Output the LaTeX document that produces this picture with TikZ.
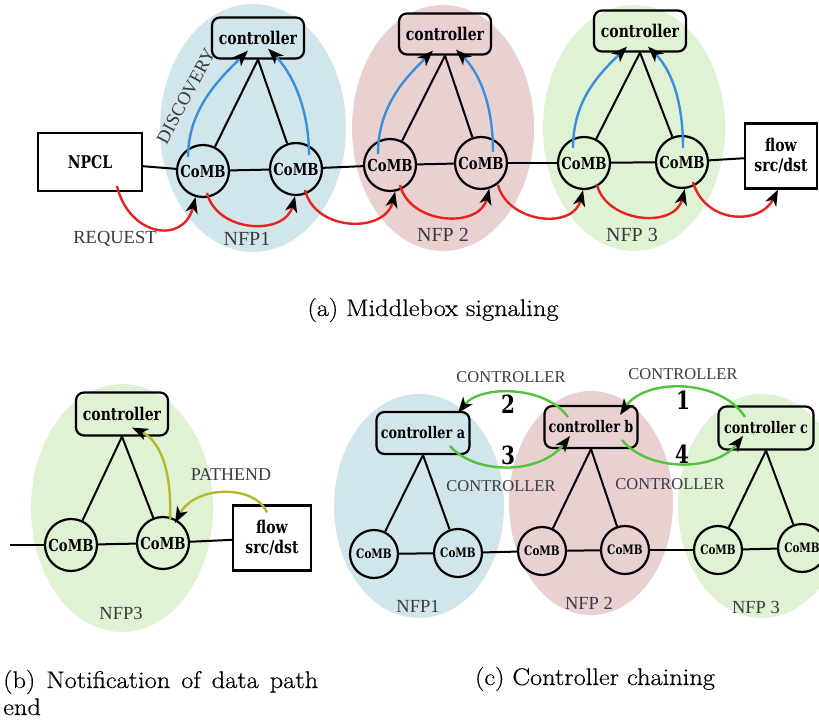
\documentclass[tikz,border=0pt]{standalone}
\usepackage{fontspec}
\newfontfamily\lblfont[FakeStretch=0.8]{DejaVu Serif}
\newfontfamily\tagfont{Liberation Serif}
\newfontfamily\capfont[FakeStretch=1.1,FakeBold=0.6]{Latin Modern Roman}
\usetikzlibrary{arrows.meta,calc}

\definecolor{nfpblue}{HTML}{D0E6EA}
\definecolor{nfppink}{HTML}{E9D0D1}
\definecolor{nfpgreen}{HTML}{DFF2D4}
\definecolor{sigred}{HTML}{E8221F}
\definecolor{sigblue}{HTML}{3A8FDC}
\definecolor{siggreen}{HTML}{52C43C}
\definecolor{sigolive}{HTML}{B5B82E}
\definecolor{tagGray}{HTML}{3A3A3A}

\tikzset{
  comb/.style={circle, draw, line width=2.2pt, minimum size=#1, inner sep=0pt,
    font=\lblfont\bfseries\fontsize{16.5}{18}\selectfont},
  comb/.default=52pt,
  ctrlbox/.style={draw, rounded corners=8pt, line width=2.2pt, minimum width=92pt,
    minimum height=41pt, inner sep=2pt, font=\lblfont\bfseries\fontsize{17.5}{19}\selectfont},
  endbox/.style={draw, line width=2.2pt, inner sep=2pt, align=center,
    font=\lblfont\bfseries\fontsize{17.5}{20}\selectfont},
  smallcomb/.style={comb=48pt, font=\lblfont\bfseries\fontsize{13}{15}\selectfont},
  smallctrl/.style={ctrlbox, minimum width=93pt, minimum height=42pt,
    font=\lblfont\bfseries\fontsize{16}{18}\selectfont},
  link/.style={line width=2pt},
  sig/.style={line width=2.4pt, -{Stealth[length=16pt,width=12pt,inset=4.5pt,color=black]}},
  tag/.style={text=tagGray, inner sep=0pt, font=\tagfont\fontsize{#1}{#1}\selectfont},
  stepnum/.style={inner sep=0pt, font=\lblfont\bfseries\fontsize{25}{27}\selectfont},
  caption/.style={inner sep=0pt, font=\capfont\fontsize{24}{28}\selectfont},
}

\begin{document}
\begin{tikzpicture}[x=1pt,y=-1pt]
\useasboundingbox (0,0) rectangle (819,722);

% ---------------- (a) middlebox signaling ----------------
\fill[nfpblue]  (253,128) ellipse [x radius=93pt, y radius=124pt];
\fill[nfppink]  (443,128) ellipse [x radius=91pt, y radius=123pt];
\fill[nfpgreen] (634,128) ellipse [x radius=91pt, y radius=123pt];

\node[endbox, minimum width=104pt, minimum height=58pt] (npcl) at (90,162) {NPCL};
\node[comb] (c1) at (203,171) {CoMB};
\node[comb] (c2) at (296,169) {CoMB};
\node[comb] (c3) at (390,165) {CoMB};
\node[comb] (c4) at (481,163) {CoMB};
\node[comb] (c5) at (584,163) {CoMB};
\node[comb] (c6) at (682,162) {CoMB};
\node[endbox, minimum width=72pt, minimum height=65pt] (flowa) at (781,156) {flow\\src/dst};
\node[ctrlbox] (k1) at (258,38) {controller};
\node[ctrlbox] (k2) at (445,34) {controller};
\node[ctrlbox] (k3) at (640,31) {controller};

\draw[link] (npcl) -- (c1);
\draw[link] (c1) -- (c2);
\draw[link] (c2) -- (c3);
\draw[link] (c3) -- (c4);
\draw[link] (c4) -- (c5);
\draw[link] (c5) -- (c6);
\draw[link] (c6) -- (flowa);
\draw[link] (k1.south) -- (c1);
\draw[link] (k1.south) -- (c2);
\draw[link] (k2.south) -- (c3);
\draw[link] (k2.south) -- (c4);
\draw[link] (k3.south) -- (c5);
\draw[link] (k3.south) -- (c6);

% discovery messages
\draw[sig, sigblue] ($(c1.center)+(-15,-14)$) .. controls +(0,-50) and +(-25,25) .. ($(k1.south)+(-10,-9)$);
\draw[sig, sigblue] ($(c2.center)+(13,-14)$) .. controls +(0,-50) and +(22,22) .. ($(k1.south)+(10,-11)$);
\draw[sig, sigblue] ($(c3.center)+(-12,-11)$) .. controls +(0,-50) and +(-25,25) .. ($(k2.south)+(-12,-5)$);
\draw[sig, sigblue] ($(c4.center)+(12,-11)$) .. controls +(0,-50) and +(22,22) .. ($(k2.south)+(11,-6)$);
\draw[sig, sigblue] ($(c5.center)+(-11,-15)$) .. controls +(0,-50) and +(-25,25) .. ($(k3.south)+(-13,-6)$);
\draw[sig, sigblue] ($(c6.center)+(1,-14)$) .. controls +(0,-50) and +(22,22) .. ($(k3.south)+(8,-6)$);

% request messages
\draw[sig, sigred] ($(npcl.south)+(27,-6)$) .. controls +(12,50) and +(-12,48) .. (c1.-106);
\draw[sig, sigred] ($(c1.center)+(4,22)$) .. controls +(10,40) and +(-10,40) .. (c2.-92);
\draw[sig, sigred] ($(c2.center)+(9,21)$) .. controls +(10,42) and +(-10,42) .. (c3.-79);
\draw[sig, sigred] ($(c3.center)+(10,20)$) .. controls +(10,40) and +(-10,40) .. (c4.-72);
\draw[sig, sigred] ($(c4.center)+(17,22)$) .. controls +(10,38) and +(-10,40) .. (c5.-92);
\draw[sig, sigred] ($(c5.center)+(13,22)$) .. controls +(10,38) and +(-10,40) .. (c6.-84);
\draw[sig, sigred] ($(c6.center)+(11,20)$) .. controls +(12,42) and +(-18,36) .. ($(flowa.south)+(-3,0)$);

\node[tag=18.5, rotate=62] (disc) at (186,96) {DISCOVERY};
\node[tag=18.5] (req) at (115,239) {REQUEST};
\node[tag=20] (nfpa1) at (247,239) {NFP1};
\node[tag=20] (nfpa2) at (443,235) {NFP 2};
\node[tag=20] (nfpa3) at (632,235) {NFP 3};

\node[caption, anchor=base] (capa) at (433,316) {(a) Middlebox signaling};

% ---------------- (b) notification of data path end ----------------
\fill[nfpgreen] (122,508) ellipse [x radius=91pt, y radius=124pt];
\coordinate (bl) at (10,545);
\node[comb] (b1) at (71,545) {CoMB};
\node[comb] (b2) at (163,543) {CoMB};
\node[endbox, minimum width=78pt, minimum height=65pt] (flowb) at (272,538) {flow\\src/dst};
\node[ctrlbox, minimum height=43pt] (kb) at (122,414) {controller};

\draw[link] (bl) -- (b1);
\draw[link] (b1) -- (b2);
\draw[link] (b2) -- (flowb);
\draw[link] (kb.south) -- (b1);
\draw[link] (kb.south) -- (b2);

\draw[sig, sigolive] ($(b2.center)+(7,-23)$) .. controls +(2,-50) and +(28,13) .. ($(kb.south)+(10,-9)$);
\draw[sig, sigolive] ($(flowb.north)+(-5,8)$) .. controls +(-12,-28) and +(20,-38) .. ($(b2.center)+(12,-20)$);

\node[tag=18] (pathend) at (231,475) {PATHEND};
\node[tag=18.5] (nfpb3) at (121,613) {NFP3};

\node[caption, anchor=base west] (capb1) at (3,688) {\makebox[315pt][s]{(b) Notification of data path}};
\node[caption, anchor=base west] (capb2) at (3,715) {end};

% ---------------- (c) controller chaining ----------------
\fill[nfpblue]  (419,506) ellipse [x radius=85pt, y radius=112pt];
\fill[nfppink]  (591,503) ellipse [x radius=82pt, y radius=112pt];
\fill[nfpgreen] (762,506) ellipse [x radius=84pt, y radius=112pt];

\node[smallcomb] (d1) at (374,554) {CoMB};
\node[smallcomb] (d2) at (458,553) {CoMB};
\node[smallcomb] (d3) at (542,551) {CoMB};
\node[smallcomb] (d4) at (625,550) {CoMB};
\node[smallcomb] (d5) at (718,550) {CoMB};
\node[smallcomb] (d6) at (802,548) {CoMB};
\node[smallctrl] (ka) at (423,433) {controller a};
\node[smallctrl] (kbb) at (591,427) {controller b};
\node[smallctrl, minimum width=95pt, minimum height=43pt] (kc) at (766,428) {controller c};

\draw[link] (d1) -- (d2);
\draw[link] (d2) -- (d3);
\draw[link] (d3) -- (d4);
\draw[link] (d4) -- (d5);
\draw[link] (d5) -- (d6);
\draw[link] (ka.south) -- (d1);
\draw[link] (ka.south) -- (d2);
\draw[link] (kbb.south) -- (d3);
\draw[link] (kbb.south) -- (d4);
\draw[link] (kc.south) -- (d5);
\draw[link] (kc.south) -- (d6);

\draw[sig, siggreen] ($(kbb.center)+(-23,-10)$) .. controls +(-23,-32) and +(22,-28) .. ($(ka.center)+(35,-20)$);
\draw[sig, siggreen] ($(kc.center)+(-21,-11)$) .. controls +(-25,-39) and +(25,-37) .. ($(kbb.center)+(29,-12)$);
\draw[sig, siggreen] ($(ka.center)+(27,13)$) .. controls +(25,29) and +(-30,39) .. ($(kbb.center)+(-21,9)$);
\draw[sig, siggreen] ($(kbb.center)+(31,13)$) .. controls +(26,32) and +(-28,36) .. ($(kc.center)+(-23,8)$);

\node[stepnum] (n2) at (508,404) {2};
\node[stepnum] (n1) at (683,400) {1};
\node[stepnum] (n3) at (508,455) {3};
\node[stepnum] (n4) at (682,454) {4};

\node[tag=16.5] (ct1) at (511,377) {CONTROLLER};
\node[tag=16.5] (ct2) at (683,374) {CONTROLLER};
\node[tag=16.5] (ct3) at (501,486) {CONTROLLER};
\node[tag=16.5] (ct4) at (670,484) {CONTROLLER};
\node[tag=18.5] (nfpc1) at (418,606) {NFP1};
\node[tag=18.5] (nfpc2) at (589,603) {NFP 2};
\node[tag=18.5] (nfpc3) at (756,607) {NFP 3};

\node[caption, anchor=base] (capc) at (595,685) {(c) Controller chaining};
\end{tikzpicture}
\end{document}
